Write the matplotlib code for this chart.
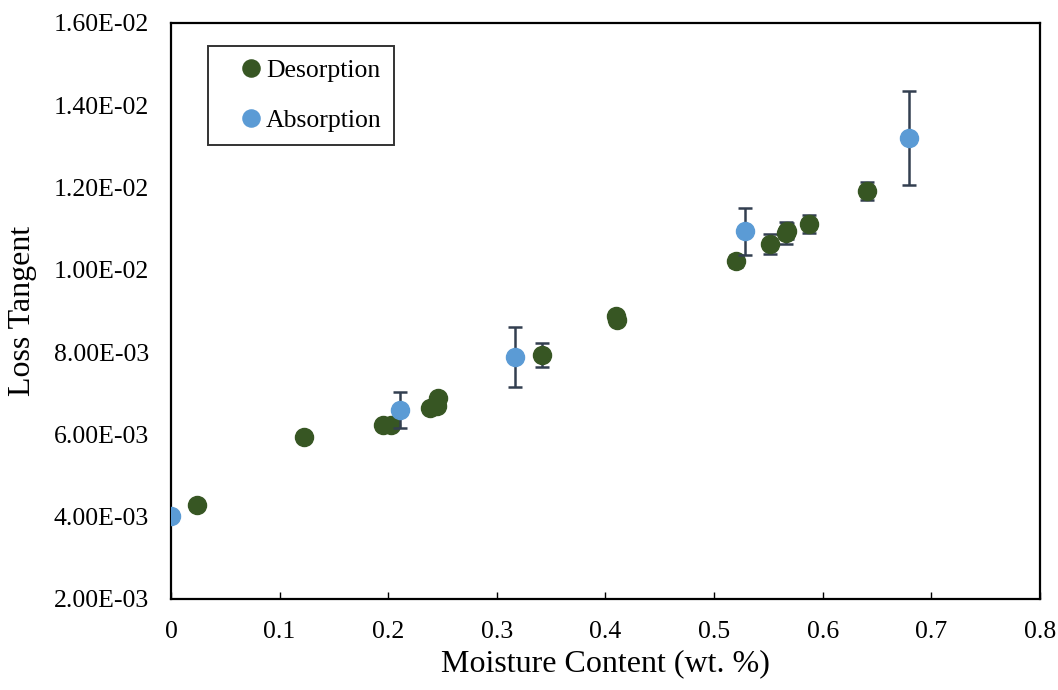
import matplotlib.pyplot as plt
from matplotlib.ticker import FuncFormatter, MultipleLocator

plt.rcParams["font.family"] = ["Liberation Serif", "DejaVu Serif"]

# Desorption data
des_x = [0.024, 0.1225, 0.195, 0.203, 0.2385, 0.245, 0.246, 0.3416, 0.410, 0.411,
         0.520, 0.551, 0.566, 0.567, 0.5875, 0.641]
des_y = [0.00428, 0.00594, 0.00623, 0.00623, 0.00664, 0.00669, 0.00688, 0.00793,
         0.00888, 0.00878, 0.01021, 0.01063, 0.01089, 0.01095, 0.01111, 0.01191]
des_err = [0.00012, 0.00012, 0.00008, 0.00008, 0.0001, 0.0001, 0.0001, 0.00029,
           0.0001, 0.0001, 0.00015, 0.00024, 0.00027, 0.0002, 0.00022, 0.00022]

# Absorption data
abs_x = [0.0, 0.211, 0.317, 0.528, 0.679]
abs_y = [0.00402, 0.00659, 0.00788, 0.01094, 0.0132]
abs_err = [0.00005, 0.00043, 0.00072, 0.00057, 0.00114]

green = "#375623"
blue = "#5B9BD5"
errc = "#333F50"

fig = plt.figure(figsize=(10.58, 6.9), dpi=100)
ax = fig.add_axes([0.1616, 0.1319, 0.8214, 0.8348])

ax.errorbar(des_x, des_y, yerr=des_err, fmt="o", color=green, markersize=13,
            ecolor=errc, elinewidth=1.8, capsize=5, capthick=1.8,
            label="Desorption", zorder=3)
ax.errorbar(abs_x, abs_y, yerr=abs_err, fmt="o", color=blue, markersize=13,
            ecolor=errc, elinewidth=1.8, capsize=5, capthick=1.8,
            label="Absorption", zorder=4)

ax.set_xlim(0, 0.8)
ax.set_ylim(0.002, 0.016)
ax.xaxis.set_major_locator(MultipleLocator(0.1))
ax.yaxis.set_major_locator(MultipleLocator(0.002))
ax.xaxis.set_major_formatter(FuncFormatter(lambda v, p: "0" if abs(v) < 1e-9 else f"{v:.1f}"))
ax.yaxis.set_major_formatter(FuncFormatter(lambda v, p: f"{v:.2E}"))
ax.tick_params(axis="x", direction="in", length=5, width=1, labelsize=18.5, pad=16)
ax.tick_params(axis="y", length=0, labelsize=18.5, pad=16)
for s in ax.spines.values():
    s.set_linewidth(1.6)

ax.set_xlabel("Moisture Content (wt. %)", fontsize=23, labelpad=4)
ax.set_ylabel("Loss Tangent", fontsize=23, labelpad=12)

handles, labels = ax.get_legend_handles_labels()
handles = [h[0] for h in handles]
leg = ax.legend(handles, labels, loc="upper left", bbox_to_anchor=(0.0426, 0.96),
                borderaxespad=0, fontsize=18.5, frameon=True, fancybox=False,
                edgecolor="black", handletextpad=-0.6, handlelength=2.35,
                labelspacing=1.05, borderpad=0.5, markerscale=0.95)
leg.get_frame().set_linewidth(1.4)

fig.savefig("out.png", dpi=100)
